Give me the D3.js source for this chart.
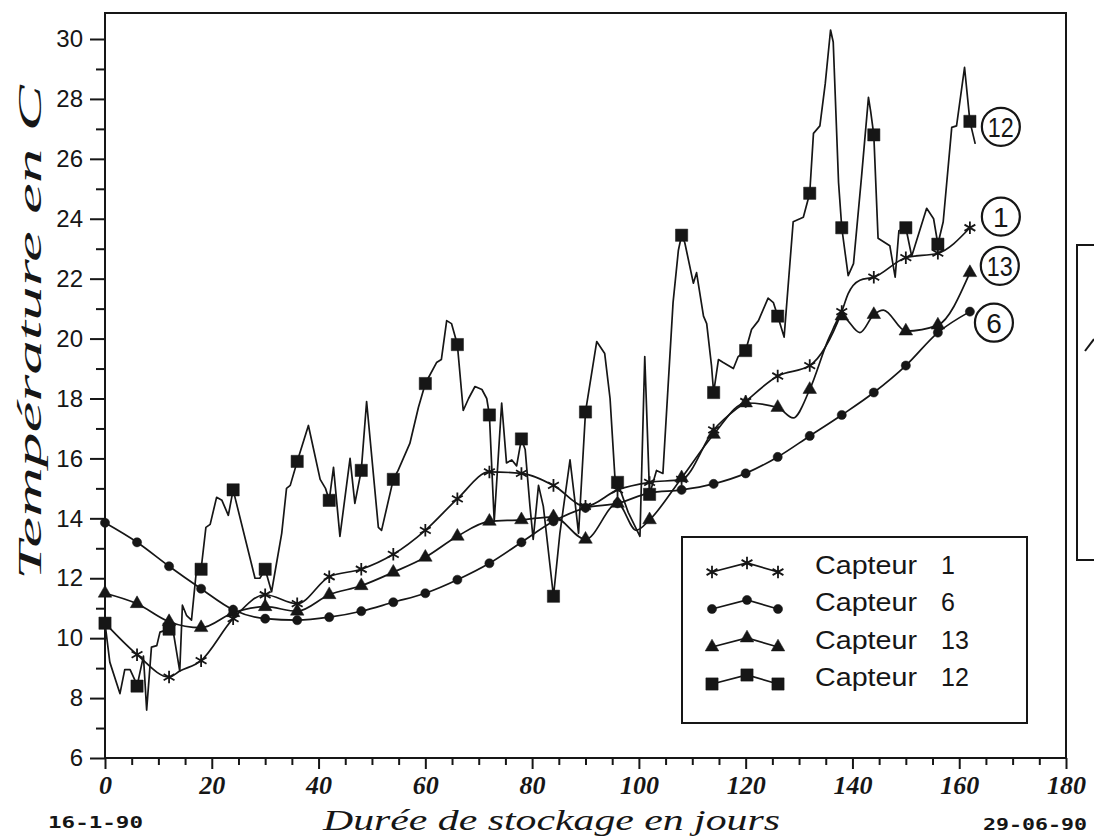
<!DOCTYPE html>
<html>
<head>
<meta charset="utf-8">
<script src="https://cdn.jsdelivr.net/npm/d3@7"></script>
<style>
  html, body { margin: 0; padding: 0; background: #fff; }
  svg { display: block; }
</style>
</head>
<body>
<svg id="chart" width="1094" height="838"></svg>
<script>
// ---------- DATA ----------
const markerDays = [0,6,12,18,24,30,36,42,48,54,60,66,72,78,84,90,96,102,108,114,120,126,132,138,144,150,156,162];
const capteur1  = [10.5,9.45,8.7,9.25,10.65,11.45,11.15,12.05,12.3,12.8,13.6,14.65,15.55,15.5,15.1,14.4,14.95,15.2,15.3,16.95,17.9,18.75,19.1,20.9,22.05,22.7,22.85,23.7];
const capteur6  = [13.85,13.2,12.4,11.65,10.95,10.65,10.6,10.7,10.9,11.2,11.5,11.95,12.5,13.2,13.9,14.35,14.5,14.85,14.95,15.15,15.5,16.05,16.75,17.45,18.2,19.1,20.2,20.9];
const capteur13 = [11.5,11.15,10.55,10.35,10.85,11.05,10.9,11.45,11.75,12.2,12.7,13.4,13.9,13.95,14.05,13.3,14.5,13.95,15.35,16.8,17.85,17.7,18.3,20.75,20.8,20.25,20.45,22.2];
// intermediate readings between markers
const capteur1Between  = [[14,8.9],[139.2,21.5],[141.4,21.95]];
const capteur13Between = [[99.5,13.6],[128.9,17.35],[135.8,20.1],[141.4,20.2],[145.8,20.95]];
// Capteur 12: daily readings [day, temperature]
const capteur12 = [
  [0,10.5],[0.9,9.2],[2.8,8.15],[3.7,8.95],[4.7,8.95],[5.6,8.6],[6,8.4],[7.2,9.4],[7.8,7.6],[8.7,9.7],[9.7,9.75],[10.3,10.2],
  [12,10.3],[12.8,10.2],[14,8.9],[14.5,11.1],[15.3,10.75],[16.2,10.6],[17.2,12.4],[18,12.3],[18.9,13.7],[19.7,13.8],
  [20.9,14.7],[21.9,14.6],[23.1,14.1],[24,14.95],[28.1,12.0],[29,12.0],[30,12.3],[31.2,11.55],[33.1,13.5],[34,15.0],
  [34.7,15.1],[36,15.9],[38.1,17.1],[40.3,15.3],[41.3,15.0],[42,14.6],[42.8,15.7],[44,13.4],[45.9,16.0],[46.8,14.5],
  [48,15.6],[49,17.9],[51.2,13.7],[51.8,13.6],[54,15.3],[54.9,15.6],[57.1,16.5],[58.7,17.7],[60,18.5],[62.1,19.2],
  [63,19.3],[64,20.6],[64.9,20.5],[66,19.8],[67.1,17.6],[68.1,18.0],[69.3,18.4],[70.6,18.3],[71.5,18.0],[72,17.45],
  [72.9,13.9],[74.3,17.85],[75.2,15.85],[76.2,15.95],[77.1,15.75],[78,16.65],[78.7,16.3],[79.6,14.4],[80.2,13.3],
  [81.2,15.1],[82.1,14.4],[84,11.4],[85.2,13.5],[87.1,15.95],[88,14.6],[88.7,13.5],[90,17.55],[92.1,19.9],[93.6,19.5],
  [94.6,18.0],[95.5,15.4],[96,15.2],[98,14.2],[100.2,13.4],[101.1,19.4],[102,14.8],[103.3,15.6],[104.5,15.5],
  [106.4,21.2],[107.4,22.95],[108,23.45],[108.6,23.2],[110.2,21.85],[110.8,22.2],[112.1,20.75],[112.7,20.5],
  [113.6,19.1],[114,18.2],[114.9,19.3],[115.8,19.2],[117.7,19.0],[118.6,19.4],[120,19.6],[121.1,20.3],[122.4,20.6],
  [124.2,21.35],[125.2,21.2],[126,20.75],[127.2,20.05],[128.9,23.9],[130.8,24.05],[132,24.85],[132.7,26.85],
  [133.9,27.1],[134.9,28.5],[135.9,30.3],[136.4,29.9],[137.4,25.2],[138,23.7],[139.2,22.1],[140.2,22.5],[141.7,25.4],
  [143,28.05],[143.4,27.6],[144,26.8],[144.8,23.35],[147,23.1],[148,22.05],[148.7,23.6],[150,23.7],[151.1,22.75],
  [153.9,24.35],[155.2,24.0],[156,23.15],[157,23.9],[158.6,27.05],[159.5,27.1],[161,29.05],[162,27.25],[163,26.5]
];
const xTicks = [0,20,40,60,80,100,120,140,160,180];
const xMinor = [5,10,15,25,30,35,45,50,55,65,70,75,85,90,95,105,110,115,125,130,135,145,150,155,165,170,175];
const yTicks = [6,8,10,12,14,16,18,20,22,24,26,28,30];
const yMinor = [7,9,11,13,15,17,19,21,23,25,27,29];
const legendNames = ["Capteur","Capteur","Capteur","Capteur"];
const legendNums  = ["1","6","13","12"];
const curveLabels = [
  {text:"12", day:167.8, temp:27.07},
  {text:"1",  day:167.8, temp:24.07},
  {text:"13", day:167.6, temp:22.43},
  {text:"6",  day:166.5, temp:20.53}
];
const xTitle = "Durée de stockage en jours";
const yTitle = "Température en C";
const dateStart = "16-1-90";
const dateEnd = "29-06-90";

// ---------- SETUP ----------
const ink = "#161616";
const svg = d3.select("#chart");
svg.append("rect").attr("width",1094).attr("height",838).attr("fill","#fff");

const x = d3.scaleLinear().domain([0,180]).range([105,1066]);
const y = d3.scaleLinear().domain([6,30]).range([758,39]);
const frameTop = 13;

// symbols
const asteriskType = d3.symbolAsterisk || {
  draw(ctx, size) {
    const r = Math.sqrt(size) * 0.6;
    for (let k = 0; k < 3; k++) {
      const a = Math.PI/2 + k*Math.PI/3;
      ctx.moveTo(r*Math.cos(a), r*Math.sin(a));
      ctx.lineTo(-r*Math.cos(a), -r*Math.sin(a));
    }
  }
};
const symStar = d3.symbol().type(asteriskType).size(110);
const symCircle = d3.symbol().type(d3.symbolCircle).size(66);
const symTri = d3.symbol().type(d3.symbolTriangle).size(80);
const symSquare = d3.symbol().type(d3.symbolSquare).size(150);

// ---------- FRAME & AXES ----------
svg.append("rect")
  .attr("x", x(0)).attr("y", frameTop)
  .attr("width", x(180)-x(0)).attr("height", y(6)-frameTop)
  .attr("fill","none").attr("stroke",ink).attr("stroke-width",2);

const yAxis = svg.append("g").attr("transform",`translate(${x(0)},0)`)
  .call(d3.axisLeft(y).tickValues(yTicks).tickSize(15).tickPadding(7).tickFormat(d3.format("d")));
yAxis.select(".domain").remove();
yAxis.selectAll(".tick line").attr("stroke",ink).attr("stroke-width",2);
yAxis.selectAll(".tick text").attr("fill",ink)
  .style("font-family","'Liberation Sans', Arial, sans-serif").style("font-size","24px");

const yAxisMinor = svg.append("g").attr("transform",`translate(${x(0)},0)`)
  .call(d3.axisLeft(y).tickValues(yMinor).tickSize(9).tickFormat(""));
yAxisMinor.select(".domain").remove();
yAxisMinor.selectAll(".tick line").attr("stroke",ink).attr("stroke-width",2);

const xAxis = svg.append("g").attr("transform",`translate(0,${y(6)})`)
  .call(d3.axisBottom(x).tickValues(xTicks).tickSize(11).tickPadding(7).tickFormat(d3.format("d")));
xAxis.select(".domain").remove();
xAxis.selectAll(".tick line").attr("stroke",ink).attr("stroke-width",2);
xAxis.selectAll(".tick text").attr("fill",ink)
  .style("font-family","'Liberation Serif', 'DejaVu Serif', serif")
  .style("font-style","italic").style("font-weight","bold").style("font-size","26px");

const xAxisMinor = svg.append("g").attr("transform",`translate(0,${y(6)})`)
  .call(d3.axisBottom(x).tickValues(xMinor).tickSize(7).tickFormat(""));
xAxisMinor.select(".domain").remove();
xAxisMinor.selectAll(".tick line").attr("stroke",ink).attr("stroke-width",2);

// titles
svg.append("text")
  .attr("x", 323).attr("y", 830)
  .attr("textLength", 457).attr("lengthAdjust","spacingAndGlyphs")
  .attr("fill", ink)
  .style("font-family","'Liberation Serif', 'DejaVu Serif', serif")
  .style("font-style","italic").style("font-size","30px")
  .text(xTitle);

svg.append("text")
  .attr("transform","translate(41,580) rotate(-90)")
  .attr("textLength", 495).attr("lengthAdjust","spacingAndGlyphs")
  .attr("fill", ink)
  .style("font-family","'Liberation Serif', 'DejaVu Serif', serif")
  .style("font-style","italic").style("font-size","33px")
  .text(yTitle);

svg.append("text").attr("x",48).attr("y",828)
  .attr("textLength",95).attr("lengthAdjust","spacingAndGlyphs")
  .attr("fill",ink).style("font-family","'DejaVu Sans Mono', monospace")
  .style("font-weight","bold").style("font-size","16px").text(dateStart);
svg.append("text").attr("x",983).attr("y",830)
  .attr("textLength",104).attr("lengthAdjust","spacingAndGlyphs")
  .attr("fill",ink).style("font-family","'DejaVu Sans Mono', monospace")
  .style("font-weight","bold").style("font-size","16px").text(dateEnd);

// ---------- SERIES ----------
const plot = svg.append("g");
const lineSmooth = d3.line().x(d=>x(d[0])).y(d=>y(d[1])).curve(d3.curveMonotoneX);
const lineStraight = d3.line().x(d=>x(d[0])).y(d=>y(d[1]));

function pairs(vals, extra) {
  const p = markerDays.map((d,i)=>[d, vals[i]]).concat(extra || []);
  return p.sort((a,b)=>a[0]-b[0]);
}
const s1 = markerDays.map((d,i)=>[d,capteur1[i]]);
const s6 = markerDays.map((d,i)=>[d,capteur6[i]]);
const s13 = markerDays.map((d,i)=>[d,capteur13[i]]);
const s12m = capteur12.filter(d => markerDays.includes(d[0]));

function drawLine(data, gen) {
  plot.append("path").datum(data).attr("d", gen)
    .attr("fill","none").attr("stroke",ink).attr("stroke-width",1.7)
    .attr("stroke-linejoin","round");
}
drawLine(pairs(capteur6), lineSmooth);
drawLine(pairs(capteur13, capteur13Between), lineSmooth);
drawLine(pairs(capteur1, capteur1Between), lineSmooth);
drawLine(capteur12, lineStraight);

function drawMarkers(data, sym, stroke) {
  plot.append("g").selectAll("path").data(data).join("path")
    .attr("transform", d=>`translate(${x(d[0])},${y(d[1])})`)
    .attr("d", sym)
    .attr("fill", stroke ? "none" : ink)
    .attr("stroke", ink).attr("stroke-width", stroke ? 1.8 : 0.5);
}
drawMarkers(s6, symCircle, false);
drawMarkers(s13, symTri, false);
drawMarkers(s1, symStar, true);
drawMarkers(s12m, symSquare, false);

// circled curve labels
const cl = svg.append("g").selectAll("g").data(curveLabels).join("g")
  .attr("transform", d=>`translate(${x(d.day)},${y(d.temp)})`);
cl.append("circle").attr("r",19).attr("fill","#fff").attr("stroke",ink).attr("stroke-width",2.2);
cl.append("text").attr("text-anchor","middle").attr("dy","0.36em")
  .attr("fill",ink).style("font-family","'Liberation Sans', Arial, sans-serif")
  .style("font-size","28px").attr("textLength", d=>d.text.length>1?26:null)
  .attr("lengthAdjust","spacingAndGlyphs").text(d=>d.text);

// ---------- LEGEND ----------
const leg = svg.append("g");
leg.append("rect").attr("x",682).attr("y",537).attr("width",345).attr("height",186)
  .attr("fill","#fff").attr("stroke",ink).attr("stroke-width",2);
const legSyms = [[symStar,true],[symCircle,false],[symTri,false],[symSquare,false]];
const legRows = [574,611,649,686];
const legXs = [712,747,778];
const legRise = [0,-9,0];
legRows.forEach((ry,i)=>{
  const pts = legXs.map((lx,j)=>[lx, ry - 2 + legRise[j]]);
  leg.append("path").attr("d", d3.line()(pts)).attr("fill","none")
    .attr("stroke",ink).attr("stroke-width",1.7);
  const [sym, stroke] = legSyms[i];
  leg.append("g").selectAll("path").data(pts).join("path")
    .attr("transform", d=>`translate(${d[0]},${d[1]})`)
    .attr("d", sym).attr("fill", stroke ? "none" : ink)
    .attr("stroke",ink).attr("stroke-width", stroke?1.8:0.5);
  leg.append("text").attr("x",815).attr("y",ry)
    .attr("textLength",102).attr("lengthAdjust","spacingAndGlyphs")
    .attr("fill",ink).style("font-family","'Liberation Sans', Arial, sans-serif")
    .style("font-size","25px").text(legendNames[i]);
  leg.append("text").attr("x",941).attr("y",ry)
    .attr("fill",ink).style("font-family","'Liberation Sans', Arial, sans-serif")
    .style("font-size","25px").text(legendNums[i]);
});

// ---------- neighbouring figure fragment at right edge ----------
svg.append("path").attr("d","M1100,245 H1077 V560 H1100")
  .attr("fill","none").attr("stroke",ink).attr("stroke-width",2);
svg.append("path").attr("d","M1085,351 L1094,339")
  .attr("fill","none").attr("stroke",ink).attr("stroke-width",2);
</script>
</body>
</html>
